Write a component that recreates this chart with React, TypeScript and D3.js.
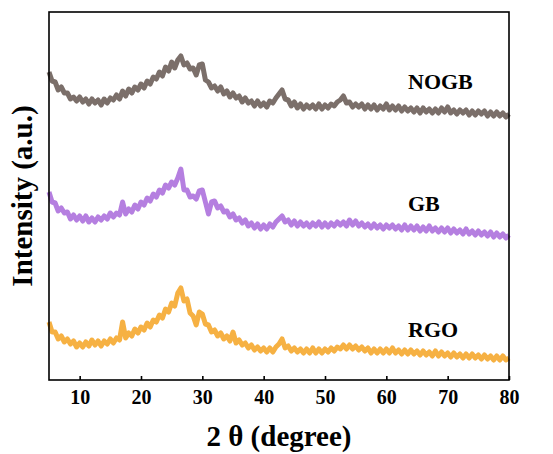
import React, { useRef, useEffect } from 'react';
import * as d3 from 'd3';

// 2θ grid, 0.5 degree step from 5 to 80
const twoTheta = d3.range(5, 80.25, 0.5);

// intensities (arbitrary units, offset-stacked as in the figure)
const nogb = [
  308, 299, 298, 290, 293, 287, 287, 281, 283, 279, 283, 278, 281, 276, 281, 277, 280, 275, 281, 277,
  282, 280, 285, 281, 289, 284, 291, 287, 293, 290, 296, 292, 299, 296, 303, 301, 308, 304, 313, 309,
  318, 312, 320, 324, 315, 317, 311, 312, 305, 315, 316, 300, 298, 292, 294, 289, 293, 286, 289, 283,
  287, 282, 284, 278, 282, 277, 279, 274, 279, 274, 277, 273, 279, 277, 282, 286, 290, 281, 280, 274,
  278, 272, 276, 271, 275, 272, 275, 271, 276, 271, 275, 272, 276, 274, 278, 280, 284, 277, 278, 273,
  276, 273, 276, 271, 275, 271, 275, 270, 274, 271, 276, 270, 274, 270, 274, 269, 273, 269, 272, 268,
  272, 267, 272, 268, 271, 267, 271, 267, 272, 268, 273, 267, 270, 266, 270, 267, 270, 265, 269, 265,
  269, 266, 269, 264, 268, 264, 268, 264, 267, 263, 266,
];
const gb = [
  188, 178, 177, 169, 172, 167, 168, 161, 165, 160, 164, 159, 164, 158, 162, 158, 163, 160, 164, 161,
  167, 163, 167, 165, 178, 166, 171, 168, 175, 171, 178, 175, 182, 179, 186, 183, 190, 187, 195, 192,
  198, 195, 202, 211, 190, 190, 183, 184, 181, 189, 190, 178, 166, 178, 179, 172, 174, 168, 169, 163,
  166, 160, 162, 157, 160, 154, 157, 152, 156, 151, 155, 151, 156, 153, 158, 161, 164, 158, 160, 155,
  159, 154, 158, 154, 157, 153, 157, 154, 158, 153, 157, 153, 157, 154, 158, 155, 158, 154, 160, 155,
  159, 154, 157, 153, 156, 152, 156, 152, 155, 151, 155, 152, 155, 151, 154, 150, 155, 150, 154, 150,
  154, 149, 153, 149, 154, 149, 152, 148, 152, 148, 152, 147, 151, 147, 150, 146, 151, 146, 149, 145,
  149, 145, 148, 144, 148, 143, 147, 143, 146, 142, 145,
];
const rgo = [
  58, 48, 48, 41, 44, 38, 41, 36, 39, 33, 37, 33, 38, 34, 40, 35, 39, 34, 39, 36,
  41, 37, 42, 40, 58, 42, 47, 44, 51, 47, 53, 50, 57, 53, 60, 58, 65, 62, 71, 68,
  77, 74, 87, 92, 79, 81, 67, 64, 55, 68, 66, 56, 55, 48, 50, 44, 47, 41, 44, 39,
  48, 37, 40, 35, 37, 32, 35, 30, 33, 29, 32, 28, 32, 28, 33, 36, 41, 32, 34, 29,
  32, 28, 31, 27, 31, 27, 32, 27, 31, 27, 31, 28, 32, 29, 33, 31, 35, 31, 35, 31,
  34, 30, 33, 29, 32, 27, 31, 27, 31, 27, 31, 27, 32, 27, 30, 26, 30, 26, 30, 26,
  29, 25, 29, 25, 28, 24, 29, 24, 28, 24, 27, 23, 27, 23, 26, 22, 26, 22, 26, 22,
  25, 21, 25, 21, 24, 20, 24, 20, 24, 20, 22,
];

const seriesNames = ['NOGB', 'GB', 'RGO'];
const seriesColors = ['#7b6f6a', '#b57fe0', '#f6b143'];
const xTicks = [10, 20, 30, 40, 50, 60, 70, 80];

const W = 553, H = 454;
const L = 49, R = 509, T = 12, B = 380;
const FONT = '"Liberation Serif", "Times New Roman", serif';

const App = () => {
  const ref = useRef<SVGSVGElement>(null);

  useEffect(() => {
    const svg = d3.select(ref.current);
    svg.selectAll('*').remove();

    const x = d3.scaleLinear().domain([5, 80]).range([L, R]);
    const y = d3.scaleLinear().domain([0, B - T]).range([B, T]);

    const all = [nogb, gb, rgo];
    const line = d3.line<number>()
      .x((d, i) => x(twoTheta[i]))
      .y((d) => y(d));

    all.forEach((s, k) => {
      svg.append('path')
        .datum(s)
        .attr('d', line)
        .attr('fill', 'none')
        .attr('stroke', seriesColors[k])
        .attr('stroke-width', 5)
        .attr('stroke-linejoin', 'round');
    });

    // frame
    svg.append('rect')
      .attr('x', L).attr('y', T).attr('width', R - L).attr('height', B - T)
      .attr('fill', 'none').attr('stroke', '#000').attr('stroke-width', 1.6);

    const xAxis = svg.append('g')
      .attr('transform', `translate(0, ${B})`)
      .call(d3.axisBottom(x).tickValues(xTicks).tickSizeInner(-4).tickSizeOuter(0).tickPadding(10));
    xAxis.select('.domain').remove();
    xAxis.selectAll('line').attr('stroke-width', 1.6);
    xAxis.selectAll('text')
      .attr('font-family', FONT)
      .attr('font-weight', 'bold')
      .attr('font-size', 20)
      .attr('fill', '#000');

    svg.append('text')
      .attr('x', 279).attr('y', 446)
      .attr('text-anchor', 'middle')
      .attr('font-family', FONT)
      .attr('font-weight', 'bold')
      .attr('font-size', 29)
      .text('2 θ (degree)');

    svg.append('text')
      .attr('transform', `translate(32, 196) rotate(-90)`)
      .attr('text-anchor', 'middle')
      .attr('font-family', FONT)
      .attr('font-weight', 'bold')
      .attr('font-size', 29)
      .text('Intensity (a.u.)');

    const labelY = [89, 211, 337];
    seriesNames.forEach((n, k) => {
      svg.append('text')
        .attr('x', 408).attr('y', labelY[k])
        .attr('font-family', FONT)
        .attr('font-weight', 'bold')
        .attr('font-size', 22)
        .attr('fill', '#000')
        .text(n);
    });
  }, []);

  return (
    <svg ref={ref} width={W} height={H}
      style={{ position: 'absolute', left: 0, top: 0, background: '#fff' }} />
  );
};

export default App;
